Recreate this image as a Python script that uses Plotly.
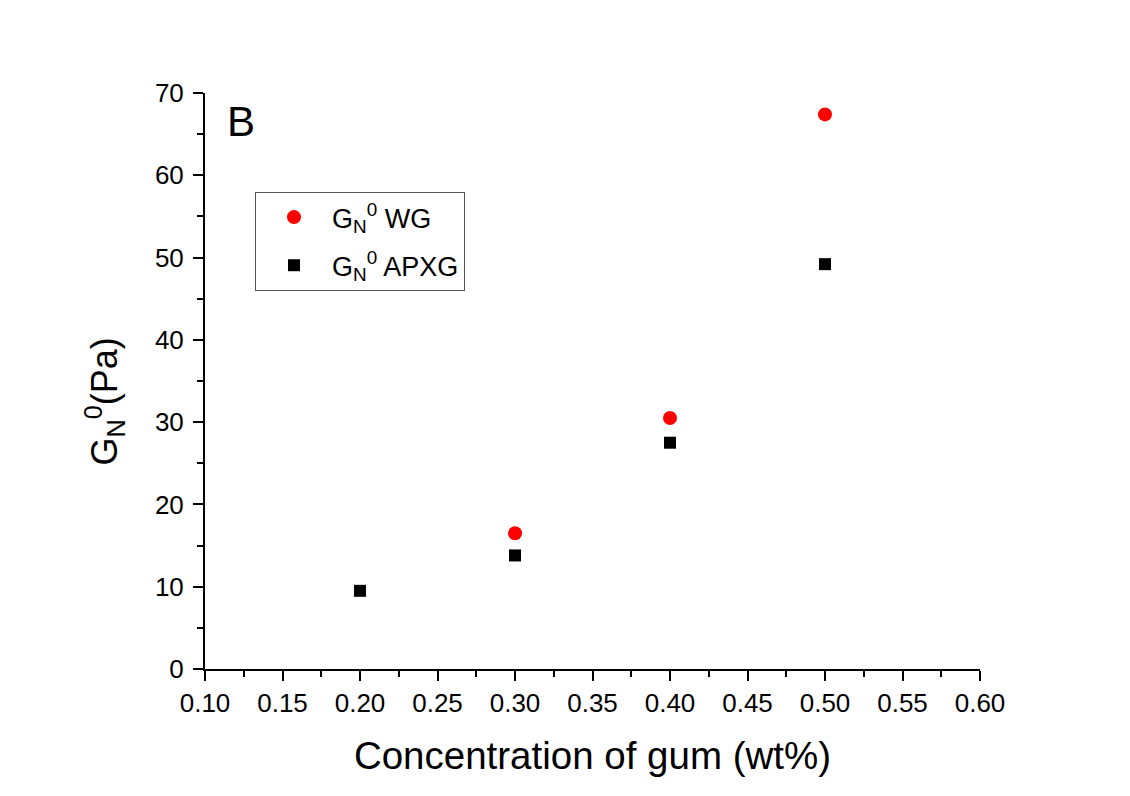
import plotly.graph_objects as go

conc_wg = [0.3, 0.4, 0.5]
gn0_wg = [16.5, 30.5, 67.4]
conc_apxg = [0.2, 0.3, 0.4, 0.5]
gn0_apxg = [9.5, 13.8, 27.5, 49.2]

x_ticks = [0.10, 0.15, 0.20, 0.25, 0.30, 0.35, 0.40, 0.45, 0.50, 0.55, 0.60]
y_ticks = [0, 10, 20, 30, 40, 50, 60, 70]

FONT = "Liberation Sans, Arial, sans-serif"

fig = go.Figure()
fig.add_trace(go.Scatter(
    x=conc_wg, y=gn0_wg, mode="markers", name="G<sub>N</sub><sup>0</sup> WG",
    legendgroup="a",
    marker=dict(symbol="circle", size=14, color="#ff0000", line=dict(width=0))))
fig.add_trace(go.Scatter(
    x=conc_apxg, y=gn0_apxg, mode="markers", name="G<sub>N</sub><sup>0</sup> APXG",
    legendgroup="b",
    marker=dict(symbol="square", size=12, color="#000000", line=dict(width=0))))

axis_common = dict(
    showline=True, linecolor="black", linewidth=2, mirror=False,
    ticks="outside", ticklen=10, tickwidth=2, tickcolor="black",
    showgrid=False, zeroline=False,
    tickfont=dict(family=FONT, size=26, color="black"),
)

fig.update_xaxes(
    range=[0.1, 0.6], tickvals=x_ticks, ticktext=[f"{v:.2f}" for v in x_ticks],
    minor=dict(ticks="outside", ticklen=6, tickwidth=2, tickcolor="black", dtick=0.025, tick0=0.1, showgrid=False),
    title=dict(text="Concentration of gum (wt%)", font=dict(family=FONT, size=38.5, color="black"), standoff=25),
    **axis_common)
fig.update_yaxes(
    range=[0, 70], tickvals=y_ticks, ticktext=[str(v) for v in y_ticks],
    minor=dict(ticks="outside", ticklen=6, tickwidth=2, tickcolor="black", dtick=5, tick0=0, showgrid=False),
    ticklabelstandoff=4,
    **axis_common)

# y-axis title (placed slightly below the axis centre as in the reference)
fig.add_annotation(
    x=-0.13, y=0.465, xref="paper", yref="paper", text="G<sub>N</sub><sup>0</sup>(Pa)",
    textangle=-90, showarrow=False, xanchor="center", yanchor="middle",
    font=dict(family=FONT, size=36, color="black"))

fig.add_annotation(
    x=0.026, y=0.951, xref="paper", yref="paper", text="B", showarrow=False,
    xanchor="left", yanchor="middle", font=dict(family=FONT, size=42, color="black"))

fig.update_layout(
    width=1130, height=796,
    margin=dict(l=205, r=150, t=93, b=127),
    paper_bgcolor="white", plot_bgcolor="white",
    font=dict(family=FONT, color="black"),
    legend=dict(
        x=0.0645, y=0.828, xanchor="left", yanchor="top",
        bordercolor="#555555", borderwidth=1, bgcolor="white",
        font=dict(family=FONT, size=27, color="black"),
        tracegroupgap=10, itemwidth=66),
    showlegend=True,
)

fig.write_html("out.html")
